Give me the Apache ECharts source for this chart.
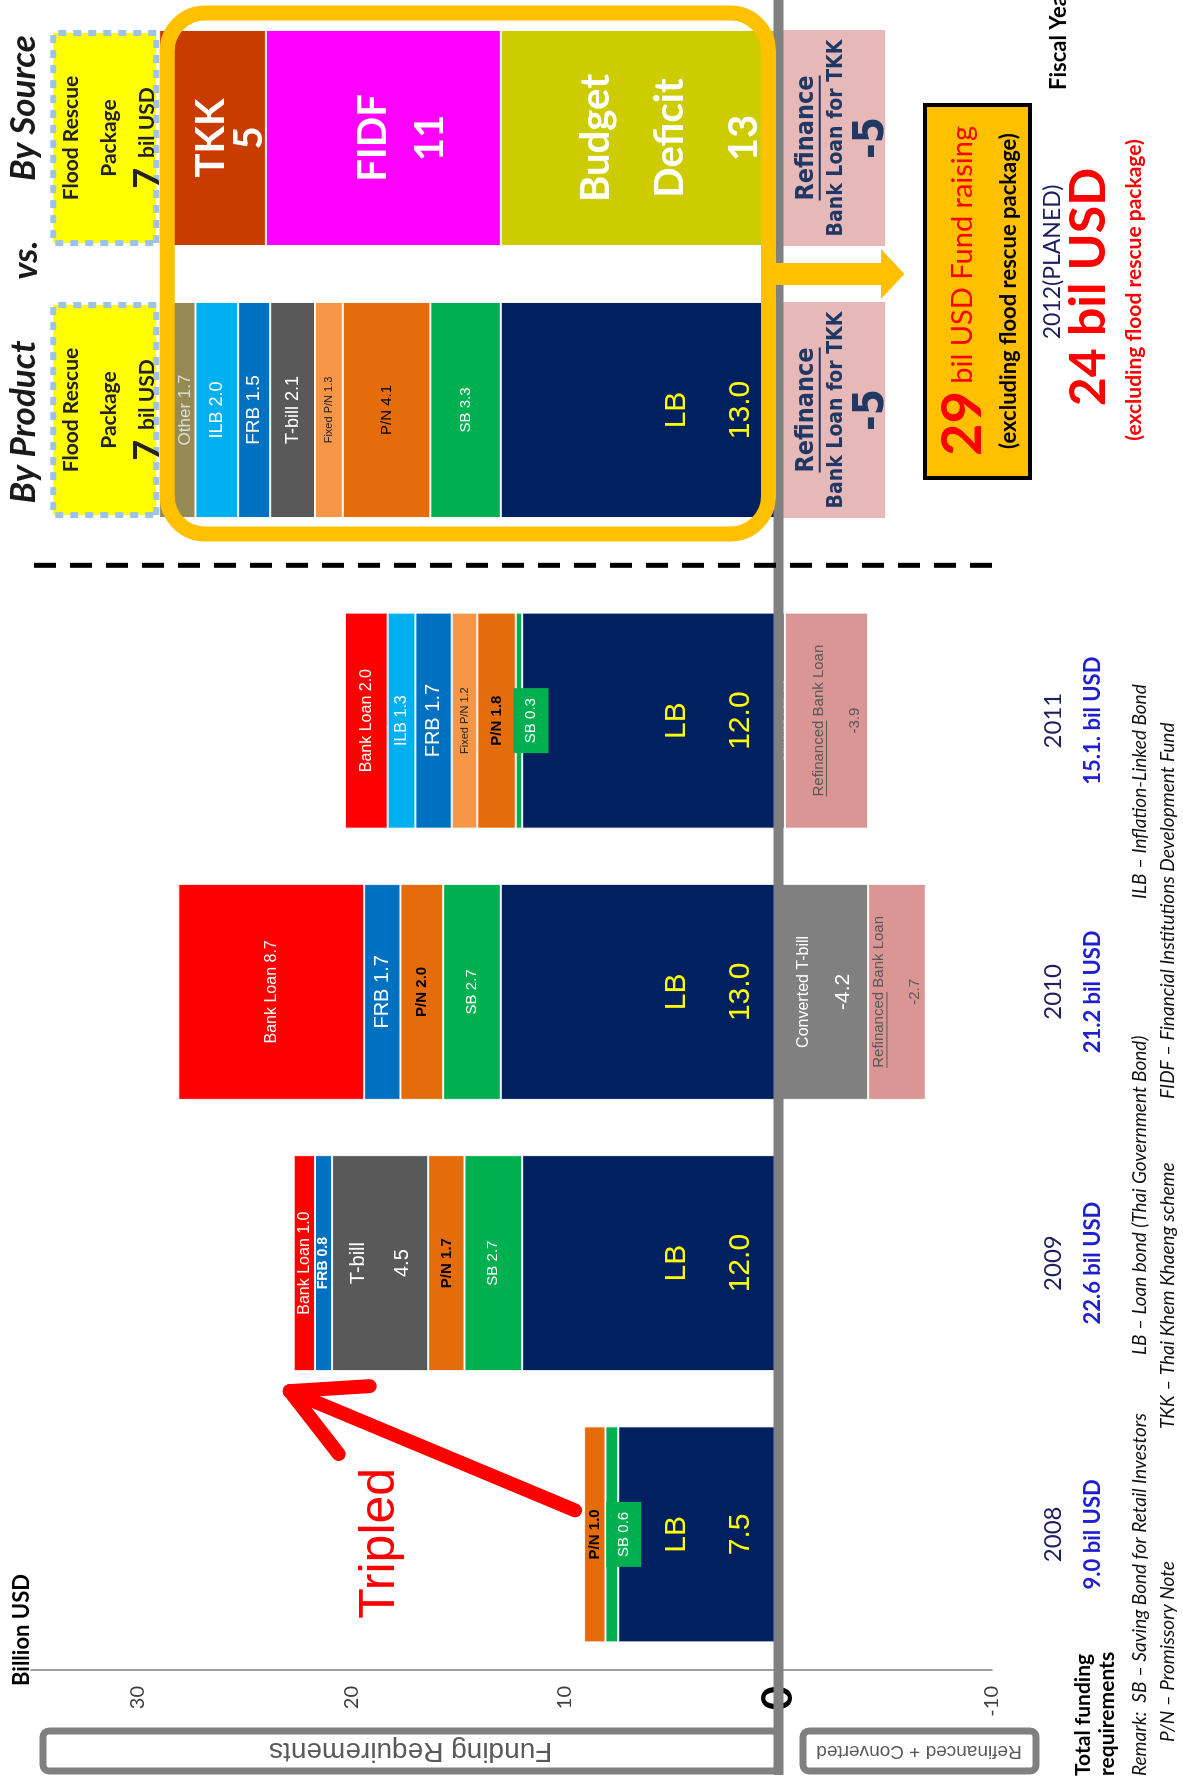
<!DOCTYPE html>
<html>
<head>
<meta charset="utf-8">
<script src="https://cdn.jsdelivr.net/npm/echarts@6/dist/echarts.min.js"></script>
<style>
  html, body { margin: 0; padding: 0; background: #fff; }
  #page { position: relative; width: 1183px; height: 1786px; overflow: hidden; background: #fff; }
  /* the slide is drawn landscape and turned a quarter turn, like the source */
  #chart { position: absolute; left: 0; top: 0; width: 1786px; height: 1183px;
           transform-origin: 0 0; transform: translateY(1786px) rotate(-90deg); }
</style>
</head>
<body>
<div id="page"><div id="chart"></div></div>
<script>
// ---- data (billion USD) ----
const years = ['2008', '2009', '2010', '2011'];
const yearTotals = ['9.0 bil USD', '22.6 bil USD', '21.2 bil USD', '15.1. bil USD'];
const lb = [7.5, 12.0, 13.0, 12.0];
const sb = [0.6, 2.7, 2.7, 0.3];
const pn = [1.0, 1.7, 2.0, 1.8];
const fixedPn = [null, null, null, 1.2];
const tbill = [null, 4.5, null, null];
const frb = [null, 0.8, 1.7, 1.7];
const ilb = [null, null, null, 1.3];
const bankLoan = [null, 1.0, 8.7, 2.0];
const convertedTbill = [null, null, -4.2, -0.3];
const refinancedLoan = [null, null, -2.7, -3.9];

const plans = ['By Product', 'By Source'];
const planLb = [13.0, null];
const planSb = [3.3, null];
const planPn = [4.1, null];
const planFixedPn = [1.3, null];
const planTbill = [2.1, null];
const planFrb = [1.5, null];
const planIlb = [2.0, null];
const planOther = [1.7, null];
const budgetDeficit = [null, 13];
const fidf = [null, 11];
const tkk = [null, 5];
const refinanceTkk = [-5, -5];
const floodPackage = [7, 7];      // printed value
const floodDrawn = [5.1, 5.1];    // length the callout box is drawn with on the scale

const yMin = -10, yMax = 35, yStep = 10;

const CAL = 'Lato, "Noto Sans", sans-serif';
const ARI = '"Liberation Sans", Arial, sans-serif';
const NAR = '"Liberation Sans Narrow", "DejaVu Sans Condensed", "Liberation Sans", sans-serif';

const chart = echarts.init(document.getElementById('chart'), null, { width: 1786, height: 1183 });

function seg(name, vals, color, gi, label, over, itemStyle) {
  over = over || {};
  return {
    name: name, type: 'bar', xAxisIndex: gi, yAxisIndex: gi,
    stack: gi === 0 ? 'hist' : 'plan',
    barWidth: 216,
    itemStyle: Object.assign({ color: color, borderColor: 'rgba(255,255,255,0.9)', borderWidth: 1 }, itemStyle || {}),
    label: Object.assign({
      show: true, position: 'inside', fontFamily: ARI,
      formatter: function (p) { return name + ' ' + p.value.toFixed(1); }
    }, label),
    data: vals.map(function (v, i) {
      if (v == null) return '-';
      return over[i] ? { value: v, label: over[i] } : v;
    })
  };
}

const lbLabel = {
  position: 'insideBottom', distance: 6,
  formatter: function (p) { return '{a|LB}\n{a|' + p.value.toFixed(1) + '}'; },
  rich: { a: { color: '#ffff00', fontSize: 30, lineHeight: 64, fontFamily: ARI } }
};
const sbBox = { backgroundColor: '#00b050', padding: [10, 10], offset: [0, 12] };
const bigWhite = function (lh, dy) {
  return { offset: [0, dy], rich: { a: { color: '#fff', fontSize: 40, fontWeight: 'bold', lineHeight: lh, fontFamily: CAL } } };
};
const refiFont = { size: 15, lh: 36 };
const refiOffset = { 2: 0, 3: 10 };

const series = [
  seg('LB', lb, '#002060', 0, lbLabel),
  seg('SB', sb, '#00b050', 0, { color: '#fff', fontSize: 15 }, { 0: sbBox, 3: sbBox }),
  seg('P/N', pn, '#e46c0a', 0, { color: '#000', fontSize: 15, fontWeight: 'bold' }),
  seg('Fixed P/N', fixedPn, '#f79646', 0, { color: '#222', fontSize: 11 }),
  seg('T-bill', tbill, '#595959', 0, {
    color: '#fff', fontSize: 20, lineHeight: 44,
    formatter: function (p) { return 'T-bill\n' + p.value.toFixed(1); }
  }),
  seg('FRB', frb, '#0070c0', 0, { color: '#fff', fontSize: 20 }, { 1: { fontSize: 14, fontWeight: 'bold' } }),
  seg('ILB', ilb, '#00b0f0', 0, { color: '#fff', fontSize: 16 }),
  seg('Bank Loan', bankLoan, '#ff0000', 0, { color: '#fff', fontSize: 16 }),
  seg('Converted T-bill', convertedTbill, '#808080', 0, {
    formatter: function (p) { return '{a|Converted T-bill}\n{b|' + p.value.toFixed(1) + '}'; },
    rich: {
      a: { color: '#fff', fontSize: 16, lineHeight: 40, fontFamily: ARI },
      b: { color: '#fff', fontSize: 21, lineHeight: 40, fontFamily: ARI }
    }
  }, { 3: { formatter: 'Converted T-bill -0.3', fontSize: 9, color: '#ddd' } }),
  seg('Refinanced Bank Loan', refinancedLoan, '#d99694', 0, {
    color: '#595959', fontSize: refiFont.size, lineHeight: refiFont.lh,
    formatter: function (p) { return 'Refinanced Bank Loan\n' + p.value.toFixed(1); }
  }, { 3: { offset: [0, refiOffset[3]] } }),

  seg('LB', planLb, '#002060', 1, lbLabel),
  seg('SB', planSb, '#00b050', 1, { color: '#fff', fontSize: 15 }),
  seg('P/N', planPn, '#e46c0a', 1, { color: '#000', fontSize: 15 }),
  seg('Fixed P/N', planFixedPn, '#f79646', 1, { color: '#222', fontSize: 11 }),
  seg('T-bill', planTbill, '#595959', 1, { color: '#fff', fontSize: 18 }),
  seg('FRB', planFrb, '#0070c0', 1, { color: '#fff', fontSize: 19 }),
  seg('ILB', planIlb, '#00b0f0', 1, { color: '#fff', fontSize: 18 }),
  seg('Other', planOther, '#948a54', 1, { color: '#ddd', fontSize: 17, offset: [0, 8] }),
  seg('Budget Deficit', budgetDeficit, '#cccc00', 1, Object.assign(bigWhite(74, 30), {
    formatter: function (p) { return '{a|Budget}\n{a|Deficit}\n{a|' + p.value + '}'; }
  })),
  seg('FIDF', fidf, '#ff00ff', 1, Object.assign(bigWhite(57, 18), {
    formatter: function (p) { return '{a|FIDF}\n{a|' + p.value + '}'; }
  })),
  seg('TKK', tkk, '#c83c00', 1, Object.assign(bigWhite(38, 18), {
    formatter: function (p) { return '{a|TKK}\n{a|' + p.value + '}'; }
  })),
  seg('Refinance', refinanceTkk, '#e6b9b8', 1, {
    offset: [0, 10],
    formatter: function (p) { return '{u|Refinance}\n{b|Bank Loan for TKK}\n{n|' + p.value + '}'; },
    rich: {
      u: { color: '#1f3864', fontSize: 25, fontWeight: 'bold', lineHeight: 32, fontFamily: NAR },
      b: { color: '#1f3864', fontSize: 21, fontWeight: 'bold', lineHeight: 28, fontFamily: NAR },
      n: { color: '#1f3864', fontSize: 42, fontWeight: 'bold', lineHeight: 42, fontFamily: NAR }
    }
  }, null, { borderWidth: 0 }),
  seg('Flood Rescue Package', floodDrawn, '#ffff00', 1, {
    offset: [0, 5],
    formatter: function (p) { return '{a|Flood Rescue}\n{a|Package}\n{n|' + floodPackage[p.dataIndex] + '}{s| }{a|bil USD}'; },
    rich: {
      a: { color: '#222', fontSize: 21, fontWeight: 'bold', lineHeight: 38, fontFamily: CAL },
      s: { fontSize: 21, lineHeight: 38, width: 10 },
      n: { color: '#222', fontSize: 36, fontWeight: 'bold', lineHeight: 38, fontFamily: CAL }
    }
  }, null, { borderColor: '#9dc3e6', borderWidth: 6, borderType: [8, 7] })
];

const option = {
  animation: false,
  backgroundColor: '#fff',
  textStyle: { fontFamily: CAL },
  grid: [
    { left: 116, right: 585, top: 31, bottom: 191 },
    { left: 1240, right: 2, top: 31, bottom: 191 }
  ],
  xAxis: [
    {
      type: 'category', gridIndex: 0, data: years,
      axisLine: { show: false }, axisTick: { show: false },
      axisLabel: {
        interval: 0, margin: 41,
        formatter: function (v, i) { return '{y|' + v + '}\n{t|' + yearTotals[i] + '}'; },
        rich: {
          y: { fontFamily: CAL, fontSize: 24, color: '#1f1f5f', lineHeight: 40 },
          t: { fontFamily: CAL, fontSize: 22, fontWeight: 'bold', color: '#1f1fd0', lineHeight: 40 }
        }
      }
    },
    { type: 'category', gridIndex: 1, data: plans, show: false }
  ],
  yAxis: [
    {
      type: 'value', gridIndex: 0, min: yMin, max: yMax, interval: yStep,
      axisLine: { show: true, lineStyle: { color: '#7f7f7f', width: 1.5 } },
      axisTick: { show: false }, splitLine: { show: false },
      axisLabel: {
        margin: 16, fontSize: 20, color: '#404040', fontFamily: CAL,
        formatter: function (v) { return v === yMax ? '' : (v === 0 ? '{z|0}' : String(v)); },
        rich: { z: { fontSize: 42, fontWeight: 'bold', color: '#000', fontFamily: CAL } }
      }
    },
    { type: 'value', gridIndex: 1, min: yMin, max: yMax, interval: yStep, show: false }
  ],
  series: series
};
chart.setOption(option);

// ---- annotations, placed from the axes ----
const yAt = function (v) { return chart.convertToPixel({ yAxisIndex: 0 }, v); };
const xA = function (i) { return chart.convertToPixel({ xAxisIndex: 0 }, years[i]); };
const xB = function (i) { return chart.convertToPixel({ xAxisIndex: 1 }, plans[i]); };
const y0 = yAt(0);
const posSum = function (i) {
  return [lb, sb, pn, fixedPn, tbill, frb, ilb, bankLoan].reduce(function (s, a) { return s + (a[i] || 0); }, 0);
};
const ctx = document.createElement('canvas').getContext('2d');
const textW = function (t, font) { ctx.font = font; return ctx.measureText(t).width; };

function text(x, y, t, st, extra) {
  return Object.assign({ type: 'text', x: x, y: y, z: 60,
    style: Object.assign({ text: t, fill: '#000', fontFamily: CAL, fontSize: 20, align: 'center', verticalAlign: 'middle' }, st) }, extra || {});
}
function uline(x1, x2, y, color, w) {
  return { type: 'line', z: 60, shape: { x1: x1, y1: y, x2: x2, y2: y }, style: { stroke: color, lineWidth: w } };
}

const arrowX = (xB(0) + xB(1)) / 2;
const tip = [xA(1) - 128, yAt(posSum(1)) - 4];
const tail = [xA(0) + 24, yAt(posSum(0)) - 9];
const frameL = xB(0) - 124, frameR = xB(1) + 125;

const graphic = [
  // zero line
  { type: 'rect', z: 40, shape: { x: 11, y: y0 - 5, width: 1775, height: 10 }, style: { fill: '#808080' } },
  // side boxes
  { type: 'rect', z: 40, shape: { x: 15, y: 43, width: 40, height: y0 - 43, r: 6 }, style: { fill: 'none', stroke: '#808080', lineWidth: 7 } },
  text(35, (43 + y0) / 2, 'Funding Requirements', { fill: '#595959', fontFamily: ARI, fontSize: 28 }, { rotation: Math.PI / 2 }),
  { type: 'rect', z: 40, shape: { x: 15, y: 803, width: 40, height: 233, r: 6 }, style: { fill: 'none', stroke: '#808080', lineWidth: 7 } },
  text(35, 919, 'Refinanced + Converted', { fill: '#595959', fontFamily: ARI, fontSize: 19 }, { rotation: Math.PI / 2 }),
  text(100, 22, 'Billion USD', { fontWeight: 'bold', fontSize: 22, align: 'left' }),
  // title
  text(xB(0) - 12, 24, 'By Product', { fontWeight: 'bold', fontStyle: 'italic', fontSize: 35, fill: '#1a1a1a' }),
  text(arrowX + 14, 26, 'vs.', { fontWeight: 'bold', fontStyle: 'italic', fontSize: 35, fill: '#1a1a1a' }),
  text(xB(1) + 30, 24, 'By Source', { fontWeight: 'bold', fontStyle: 'italic', fontSize: 35, fill: '#1a1a1a' }),
  // orange frame and arrow
  { type: 'rect', z: 45, shape: { x: frameL, y: yAt(29) + 8, width: frameR - frameL, height: y0 - 10 - yAt(29) - 8, r: 38 },
    style: { fill: 'none', stroke: '#ffc000', lineWidth: 15 } },
  { type: 'polygon', z: 46, shape: { points: [
      [arrowX - 11, y0 - 14], [arrowX + 11, y0 - 14], [arrowX + 11, yAt(-4.8)], [arrowX + 25, yAt(-4.8)],
      [arrowX, yAt(-5.9)], [arrowX - 25, yAt(-4.8)], [arrowX - 11, yAt(-4.8)]] },
    style: { fill: '#ffc000' } },
  // divider
  { type: 'line', z: 40, shape: { x1: (xA(3) + xB(0)) / 2, y1: 34, x2: (xA(3) + xB(0)) / 2, y2: yAt(yMin) },
    style: { stroke: '#000', lineWidth: 5, lineDash: [22, 14] } },
  // 29 bil box
  { type: 'rect', z: 50, shape: { x: 1308, y: 925, width: 373, height: 105 }, style: { fill: '#ffc000', stroke: '#000', lineWidth: 4 } },
  text(1495, 980, '{a|29}{b| bil USD Fund raising}\n{c|(excluding flood rescue package)}', {
    rich: {
      a: { fill: '#ff0000', fontSize: 56, fontWeight: 'bold', fontFamily: CAL, lineHeight: 58 },
      b: { fill: '#ff0000', fontSize: 29, fontFamily: CAL, lineHeight: 58 },
      c: { fill: '#000', fontSize: 22, fontWeight: 'bold', fontFamily: CAL, lineHeight: 34 }
    }
  }),
  text(arrowX + 12, 1053, '2012(PLANED)', { fill: '#1f1f5f', fontSize: 23 }),
  text(arrowX - 13, 1089, '24 bil USD', { fill: '#ff0000', fontSize: 50, fontWeight: 'bold' }),
  text(arrowX - 16, 1134, '(excluding flood rescue package)', { fill: '#ff0000', fontSize: 21, fontWeight: 'bold' }),
  text(1696, 1059, 'Fiscal Year', { fontWeight: 'bold', fontSize: 22, align: 'left' }),
  // footer
  text(10, 1083, 'Total funding', { fontWeight: 'bold', fontSize: 21, align: 'left' }),
  text(10, 1107, 'requirements', { fontWeight: 'bold', fontSize: 21, align: 'left' }),
  text(10, 1140, 'Remark:  SB \u2013 Saving Bond for Retail Investors', { fontStyle: 'italic', fontSize: 19, align: 'left', fill: '#111' }),
  text(431, 1140, 'LB \u2013 Loan bond (Thai Government Bond)', { fontStyle: 'italic', fontSize: 19, align: 'left', fill: '#111' }),
  text(887, 1140, 'ILB \u2013 Inflation-Linked Bond', { fontStyle: 'italic', fontSize: 19, align: 'left', fill: '#111' }),
  text(44, 1168, 'P/N \u2013 Promissory Note', { fontStyle: 'italic', fontSize: 19, align: 'left', fill: '#111' }),
  text(357, 1168, 'TKK \u2013 Thai Khem Khaeng scheme', { fontStyle: 'italic', fontSize: 19, align: 'left', fill: '#111' }),
  text(687, 1168, 'FIDF \u2013 Financial Institutions Development Fund', { fontStyle: 'italic', fontSize: 19, align: 'left', fill: '#111' }),
  // tripled
  text(xA(0) - 9, 380, 'Tripled', { fill: '#ff0000', fontFamily: ARI, fontSize: 50 }),
  { type: 'polyline', z: 55, shape: { points: [tail, tip] },
    style: { stroke: '#ff0000', lineWidth: 14, lineCap: 'round', fill: null } },
  { type: 'polyline', z: 55, shape: { points: [[tip[0] - 63, tip[1] + 49], tip, [tip[0] + 5, tip[1] + 80]] },
    style: { stroke: '#ff0000', lineWidth: 14, lineCap: 'round', lineJoin: 'round', fill: null } }
];

// underlines under "Refinanced" / "Refinance" in the negative labels
[2, 3].forEach(function (i) {
  const bottom = yAt(convertedTbill[i] || 0);
  const c = (bottom + yAt((convertedTbill[i] || 0) + refinancedLoan[i])) / 2 + refiOffset[i];
  const f = refiFont.size + 'px ' + ARI;
  const full = textW('Refinanced Bank Loan', f);
  const x1 = xA(i) - full / 2;
  graphic.push(uline(x1, x1 + textW('Refinanced', f), c - refiFont.lh / 2 + 8, '#595959', 1));
});
[0, 1].forEach(function (i) {
  const c = (y0 + yAt(refinanceTkk[i])) / 2 + 10;
  const w = textW('Refinance', 'bold 25px ' + NAR);
  graphic.push(uline(xB(i) - w / 2, xB(i) + w / 2, c - 51 + 16 + 13, '#1f3864', 2));
});

chart.setOption({ graphic: graphic });
</script>
</body>
</html>
